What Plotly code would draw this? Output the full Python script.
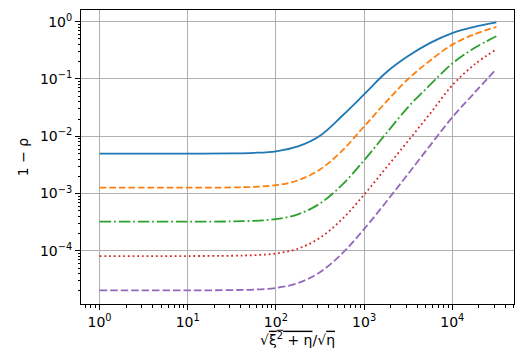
import plotly.graph_objects as go

x_vals = [1, 3.162, 10, 31.62, 56.23, 100, 177.8, 316.2, 562.3, 1000,
          1778, 3162, 5623, 10000, 17783, 31623]

blue = [4.97e-3, 4.97e-3, 4.97e-3, 5.02e-3, 5.13e-3, 5.47e-3, 6.65e-3, 1.023e-2,
        2.26e-2, 5.37e-2, 0.130, 0.251, 0.427, 0.632, 0.811, 0.973]
orange = [1.27e-3, 1.27e-3, 1.27e-3, 1.28e-3, 1.31e-3, 1.40e-3, 1.70e-3, 2.63e-3,
          5.57e-3, 1.48e-2, 3.98e-2, 0.100, 0.210, 0.398, 0.603, 0.809]
green = [3.24e-4, 3.24e-4, 3.24e-4, 3.27e-4, 3.35e-4, 3.58e-4, 4.34e-4, 6.71e-4,
         1.42e-3, 3.80e-3, 1.12e-2, 3.24e-2, 7.94e-2, 0.186, 0.347, 0.556]
red = [8.13e-5, 8.13e-5, 8.13e-5, 8.22e-5, 8.41e-5, 8.99e-5, 1.09e-4, 1.69e-4,
       3.57e-4, 9.55e-4, 2.82e-3, 8.32e-3, 2.51e-2, 7.76e-2, 0.178, 0.331]
purple = [2.04e-5, 2.04e-5, 2.04e-5, 2.07e-5, 2.11e-5, 2.26e-5, 2.74e-5, 4.24e-5,
          8.97e-5, 2.40e-4, 7.14e-4, 2.21e-3, 6.95e-3, 2.14e-2, 5.70e-2, 0.150]

x_ticks = [1, 10, 100, 1000, 10000]
x_labels = ["10<sup>0</sup>", "10<sup>1</sup>", "10<sup>2</sup>", "10<sup>3</sup>", "10<sup>4</sup>"]
y_ticks = [1e-4, 1e-3, 1e-2, 1e-1, 1]
y_labels = ["10<sup>−4</sup>", "10<sup>−3</sup>", "10<sup>−2</sup>", "10<sup>−1</sup>", "10<sup>0</sup>"]

series = [
    (blue, "#1f77b4", "solid"),
    (orange, "#ff7f0e", "6.7px,2.9px"),
    (green, "#2ca02c", "11.5px,2.9px,1.8px,2.9px"),
    (red, "#d62728", "1.8px,2.9px"),
    (purple, "#9467bd", "7.5px,3px"),
]

# minor tick positions for the log axes (2..9 in each decade)
x_minor = [m * 10 ** d for d in range(-1, 5) for m in range(2, 10)]
y_minor = [m * 10.0 ** d for d in range(-5, 1) for m in range(2, 10)]

fig = go.Figure()
for ys, col, dash in series:
    fig.add_trace(go.Scatter(x=x_vals, y=ys, mode="lines",
                             line=dict(color=col, width=1.8, dash=dash, shape="spline", smoothing=1.0),
                             showlegend=False))

axis_common = dict(
    type="log", showline=True, linecolor="black", linewidth=1, mirror=True,
    ticks="outside", ticklen=5, tickcolor="black", showgrid=True, automargin=False,
    gridcolor="#b0b0b0", gridwidth=1, zeroline=False,
    tickfont=dict(family="DejaVu Sans", size=14, color="black"),
)

fig.update_xaxes(**axis_common, range=[-0.21, 4.70], tickvals=x_ticks, ticktext=x_labels,
                 minor=dict(tickvals=x_minor, ticks="outside", ticklen=2.5, tickcolor="black", showgrid=False),
                 title=dict(text="√<span style='text-decoration:overline'>ξ<sup>2</sup> + η</span>/√<span style='text-decoration:overline'>η</span>",
                            font=dict(family="DejaVu Sans", size=14, color="black"), standoff=2))
fig.update_yaxes(**axis_common, range=[-4.927, 0.204], tickvals=y_ticks, ticktext=y_labels,
                 minor=dict(tickvals=y_minor, ticks="outside", ticklen=2.5, tickcolor="black", showgrid=False),
                 title=dict(text="1 − ρ", font=dict(family="DejaVu Sans", size=14, color="black"), standoff=8))

# page body adds an 8px margin, so the figure is 8px smaller and shifted margins compensate
fig.update_layout(width=519, height=351, margin=dict(l=73, r=13, t=2, b=55),
                  plot_bgcolor="white", paper_bgcolor="white")

fig.write_html("out.html")
